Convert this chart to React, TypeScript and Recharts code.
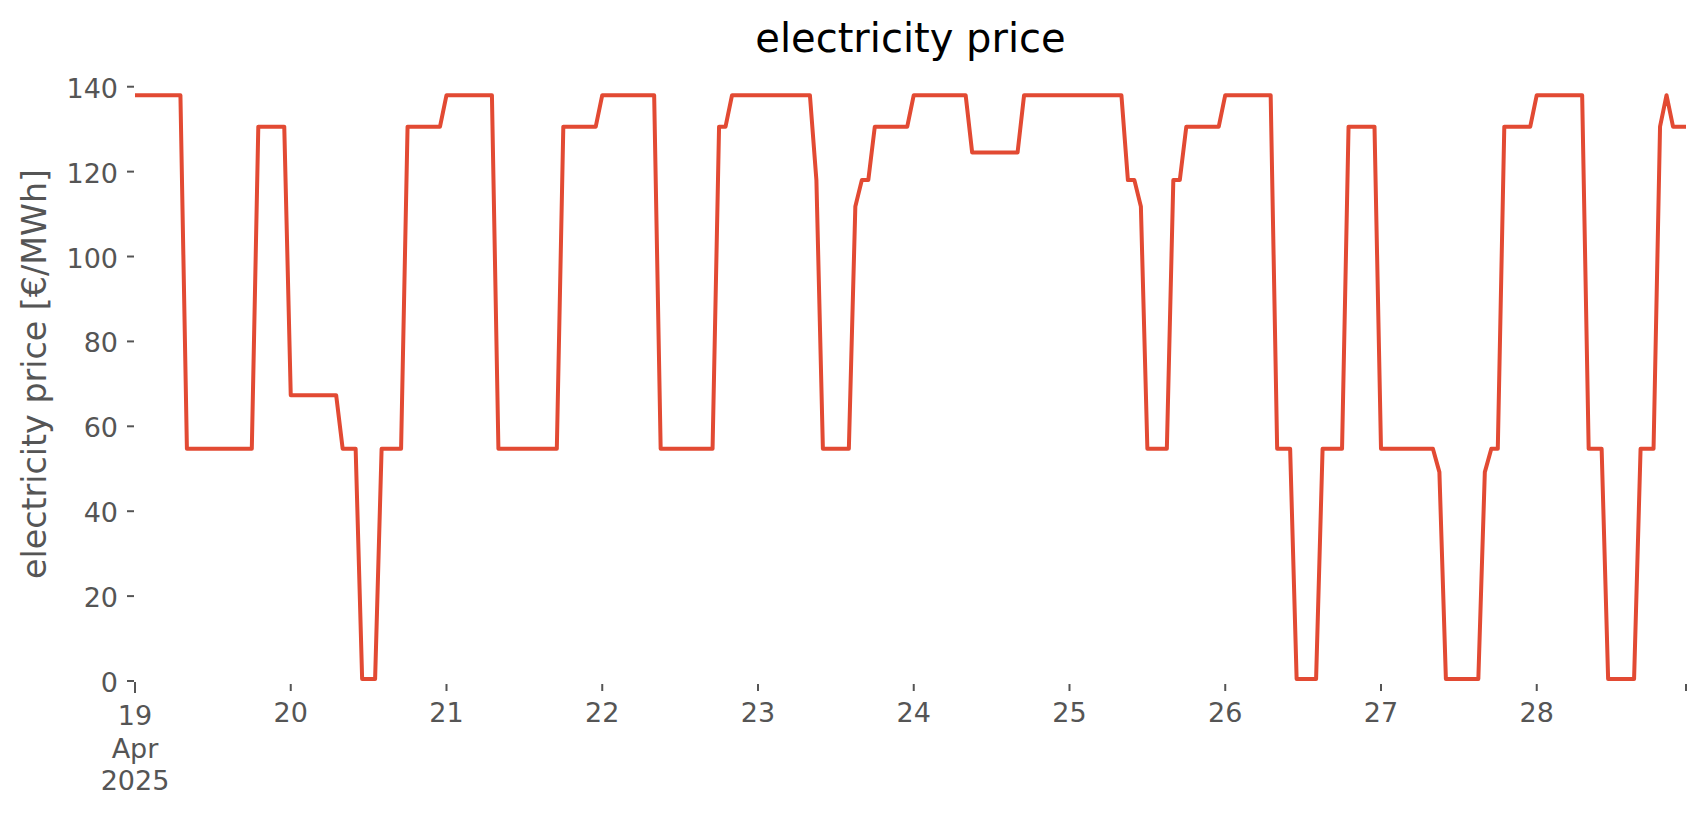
import { LineChart, Line, XAxis, YAxis } from 'recharts';

// hourly day-ahead price, €/MWh, 19–28 Apr 2025 (24 values per day)
const apr19 = [
  138, 138, 138, 138, 138, 138, 138, 138, 54.7, 54.7, 54.7, 54.7,
  54.7, 54.7, 54.7, 54.7, 54.7, 54.7, 54.7, 130.6, 130.6, 130.6, 130.6, 130.6,
];
const apr20 = [
  67.3, 67.3, 67.3, 67.3, 67.3, 67.3, 67.3, 67.3, 54.7, 54.7, 54.7, 0.5,
  0.5, 0.5, 54.7, 54.7, 54.7, 54.7, 130.6, 130.6, 130.6, 130.6, 130.6, 130.6,
];
const apr21 = [
  138, 138, 138, 138, 138, 138, 138, 138, 54.7, 54.7, 54.7, 54.7,
  54.7, 54.7, 54.7, 54.7, 54.7, 54.7, 130.6, 130.6, 130.6, 130.6, 130.6, 130.6,
];
const apr22 = [
  138, 138, 138, 138, 138, 138, 138, 138, 138, 54.7, 54.7, 54.7,
  54.7, 54.7, 54.7, 54.7, 54.7, 54.7, 130.6, 130.6, 138, 138, 138, 138,
];
const apr23 = [
  138, 138, 138, 138, 138, 138, 138, 138, 138, 118, 54.7, 54.7,
  54.7, 54.7, 54.7, 111.8, 118, 118, 130.6, 130.6, 130.6, 130.6, 130.6, 130.6,
];
const apr24 = [
  138, 138, 138, 138, 138, 138, 138, 138, 138, 124.5, 124.5, 124.5,
  124.5, 124.5, 124.5, 124.5, 124.5, 138, 138, 138, 138, 138, 138, 138,
];
const apr25 = [
  138, 138, 138, 138, 138, 138, 138, 138, 138, 118, 118, 111.8,
  54.7, 54.7, 54.7, 54.7, 118, 118, 130.6, 130.6, 130.6, 130.6, 130.6, 130.6,
];
const apr26 = [
  138, 138, 138, 138, 138, 138, 138, 138, 54.7, 54.7, 54.7, 0.5,
  0.5, 0.5, 0.5, 54.7, 54.7, 54.7, 54.7, 130.6, 130.6, 130.6, 130.6, 130.6,
];
const apr27 = [
  54.7, 54.7, 54.7, 54.7, 54.7, 54.7, 54.7, 54.7, 54.7, 49.2, 0.5, 0.5,
  0.5, 0.5, 0.5, 0.5, 49.2, 54.7, 54.7, 130.6, 130.6, 130.6, 130.6, 130.6,
];
const apr28 = [
  138, 138, 138, 138, 138, 138, 138, 138, 54.7, 54.7, 54.7, 0.5,
  0.5, 0.5, 0.5, 0.5, 54.7, 54.7, 54.7, 130.6, 138, 130.6, 130.6, 130.6,
];

const dayLabels = ['19', '20', '21', '22', '23', '24', '25', '26', '27', '28'];
const yTicks = [0, 20, 40, 60, 80, 100, 120, 140];

const price = [
  ...apr19, ...apr20, ...apr21, ...apr22, ...apr23,
  ...apr24, ...apr25, ...apr26, ...apr27, ...apr28,
];
const data = price.map((p, i) => ({ hour: i, price: p }));
const lastHour = price.length - 1;
const xTicks = [...dayLabels.map((_, i) => i * 24), lastHour];

const FONT = '"DejaVu Sans", sans-serif';
const TICK_COLOR = '#555555';

function XTick({ x, y, payload }: any) {
  const v = payload.value as number;
  if (v === 0) {
    return (
      <g>
        <line x1={x} x2={x} y1={y + 1} y2={y + 12} stroke={TICK_COLOR} strokeWidth={2} />
        <text x={x} textAnchor="middle" fill={TICK_COLOR} fontSize={27} fontFamily={FONT}>
          <tspan x={x} y={y + 44}>{dayLabels[0]}</tspan>
          <tspan x={x} y={y + 77}>Apr</tspan>
          <tspan x={x} y={y + 109}>2025</tspan>
        </text>
      </g>
    );
  }
  const idx = v / 24;
  const label = Number.isInteger(idx) ? dayLabels[idx] : '';
  return (
    <g>
      <line x1={x} x2={x} y1={y + 3} y2={y + 10} stroke={TICK_COLOR} strokeWidth={2} />
      {label && (
        <text x={x} y={y + 41} textAnchor="middle" fill={TICK_COLOR} fontSize={27} fontFamily={FONT}>
          {label}
        </text>
      )}
    </g>
  );
}

function YTick({ x, y, payload }: any) {
  return (
    <g>
      <line x1={x - 8} x2={x - 1} y1={y} y2={y} stroke={TICK_COLOR} strokeWidth={2} />
      <text x={x - 17} y={y + 11} textAnchor="end" fill={TICK_COLOR} fontSize={27} fontFamily={FONT}>
        {payload.value}
      </text>
    </g>
  );
}

export default function App() {
  return (
    <div style={{ position: 'absolute', left: 0, top: 0, width: 1706, height: 815, background: '#fff' }}>
      <LineChart
        width={1706}
        height={815}
        data={data}
        margin={{ top: 65.5, right: 20, left: 55, bottom: 74 }}
      >
        <XAxis
          dataKey="hour"
          type="number"
          domain={[0, lastHour]}
          ticks={xTicks}
          interval={0}
          axisLine={false}
          tickLine={false}
          tickSize={0}
          tickMargin={0}
          height={60}
          tick={<XTick />}
        />
        <YAxis
          type="number"
          domain={[0, 145]}
          ticks={yTicks}
          interval={0}
          axisLine={false}
          tickLine={false}
          tickSize={0}
          tickMargin={0}
          width={80}
          tick={<YTick />}
        />
        <Line
          type="linear"
          dataKey="price"
          stroke="#E24A33"
          strokeWidth={4}
          strokeLinejoin="round"
          dot={false}
          activeDot={false}
          isAnimationActive={false}
        />
      </LineChart>
      <svg
        width={1706}
        height={815}
        style={{ position: 'absolute', left: 0, top: 0, pointerEvents: 'none' }}
      >
        <text x={910.5} y={52} textAnchor="middle" fill="#000" fontSize={40} fontFamily={FONT}>
          electricity price
        </text>
        <text
          transform="translate(46,374) rotate(-90)"
          textAnchor="middle"
          fill={TICK_COLOR}
          fontSize={33.3}
          fontFamily={FONT}
        >
          electricity price [€/MWh]
        </text>
      </svg>
    </div>
  );
}
